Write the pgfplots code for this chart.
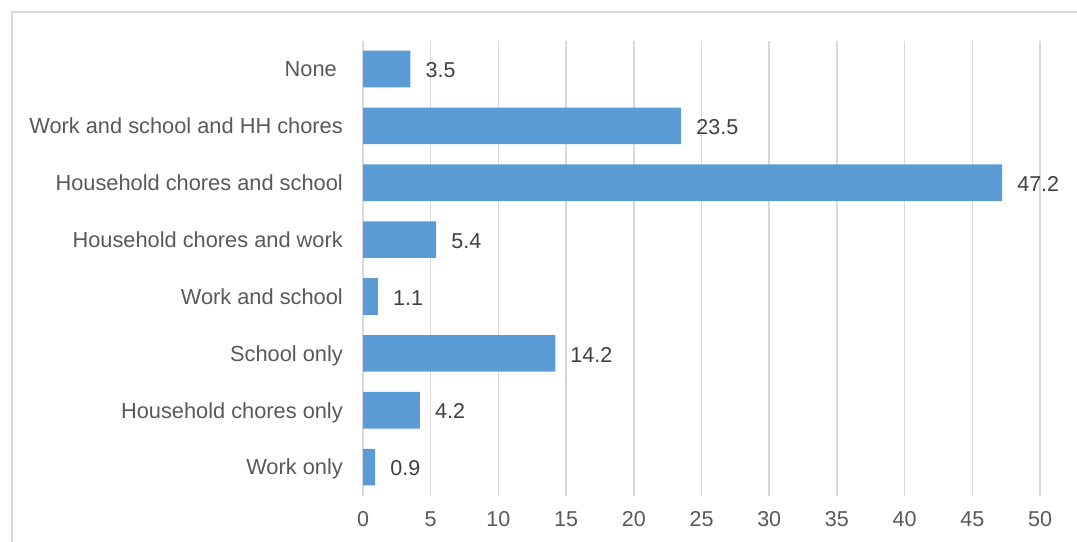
\documentclass[border=0pt]{standalone}
\usepackage{pgfplots}
\pgfplotsset{compat=1.18}
\usepackage{fontspec}
\setmainfont{Liberation Sans}
\definecolor{barblue}{HTML}{5B9BD5}
\definecolor{gridgray}{HTML}{D9D9D9}
\definecolor{labgray}{HTML}{595959}
\definecolor{datgray}{HTML}{404040}
\begin{document}
\begin{tikzpicture}[x=1bp,y=1bp]
\useasboundingbox (0,0) rectangle (1077,542);
\draw[gridgray, line width=1.5bp] (12,0) -- (12,530) -- (1077,530);
\begin{axis}[
  at={(363bp,46.4bp)}, anchor=south west,
  scale only axis, width=677bp, height=455bp,
  xbar, bar width=36.6bp,
  xmin=0, xmax=50, ymin=-0.5, ymax=7.5,
  xtick={0,5,...,50},
  ytick={0,1,2,3,4,5,6,7},
  yticklabels={Work only, Household chores only, School only, Work and school, Household chores and work, Household chores and school, Work and school and HH chores, None\kern6bp},
  major tick length=0pt,
  axis line style={draw=none},
  xmajorgrids, grid style={gridgray, line width=1.5bp},
  ymajorgrids=false,
  tick label style={font=\fontsize{21.5bp}{25bp}\selectfont, text=labgray, inner sep=0pt},
  yticklabel style={xshift=-20bp, font=\fontsize{21.8bp}{25bp}\selectfont, text height=15.6bp, text depth=0pt},
  xticklabel style={yshift=-16bp},
  /pgf/number format/assume math mode=true,
  nodes near coords,
  nodes near coords style={font=\fontsize{21.5bp}{25bp}\selectfont, text=datgray, anchor=west, inner sep=0pt, xshift=15bp, text height=15.4bp, text depth=0pt, yshift=-1bp,
    /pgf/number format/.cd, fixed, precision=1, zerofill, assume math mode=true},
  point meta=explicit,
]
\addplot[fill=barblue, draw=none] coordinates {
 (0.9,0) [0.9]
 (4.2,1) [4.2]
 (14.2,2) [14.2]
 (1.1,3) [1.1]
 (5.4,4) [5.4]
 (47.2,5) [47.2]
 (23.5,6) [23.5]
 (3.5,7) [3.5]
};
\end{axis}
\end{tikzpicture}
\end{document}
